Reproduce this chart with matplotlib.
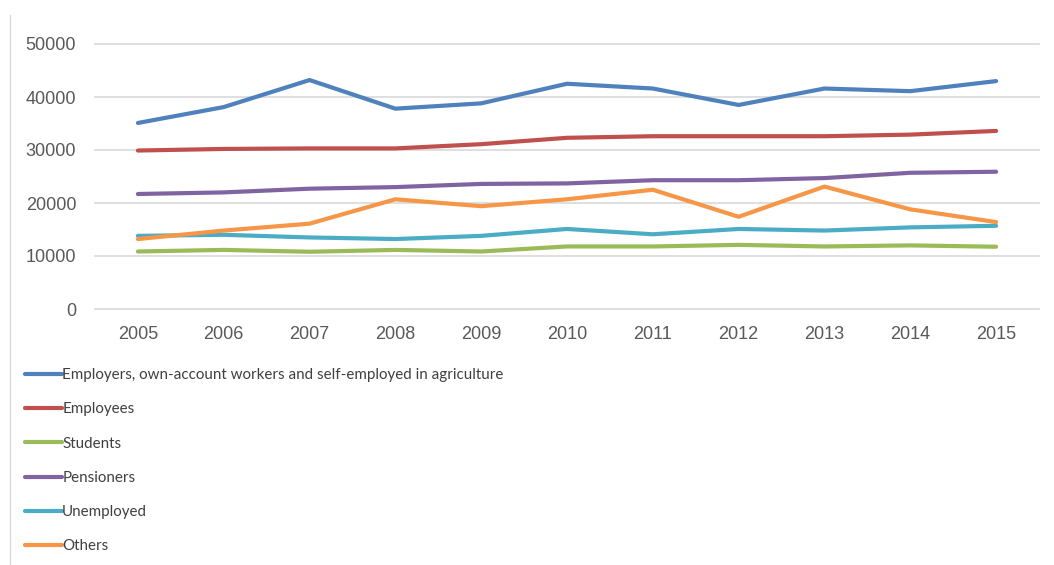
import matplotlib
matplotlib.use("Agg")
import matplotlib.pyplot as plt
from matplotlib.lines import Line2D

years = ["2005", "2006", "2007", "2008", "2009", "2010",
         "2011", "2012", "2013", "2014", "2015"]

employers = [35100, 38100, 43200, 37800, 38800, 42500, 41600, 38500, 41600, 41100, 43000]
employees = [29900, 30200, 30300, 30300, 31100, 32300, 32600, 32600, 32600, 32900, 33600]
students = [10850, 11150, 10800, 11150, 10850, 11800, 11800, 12100, 11800, 12000, 11750]
pensioners = [21700, 22000, 22700, 23000, 23600, 23700, 24300, 24300, 24700, 25700, 25900]
unemployed = [13800, 14000, 13500, 13200, 13800, 15100, 14100, 15100, 14800, 15400, 15700]
others = [13200, 14800, 16100, 20700, 19400, 20700, 22500, 17400, 23100, 18800, 16400]

labels = ["Employers, own-account workers and self-employed in agriculture",
          "Employees", "Students", "Pensioners", "Unemployed", "Others"]
colors = ["#4F81BD", "#C0504D", "#9BBB59", "#8064A2", "#4BACC6", "#F79646"]
series = [employers, employees, students, pensioners, unemployed, others]

fig = plt.figure(figsize=(10.54, 5.65), dpi=100)
ax = fig.add_axes([95 / 1054, 1 - 309 / 565, 944 / 1054, 265 / 565])

x = range(len(years))
for vals, lab, col in zip(series, labels, colors):
    ax.plot(x, vals, color=col, lw=3, label=lab, solid_capstyle="round")

ax.set_xlim(-0.5, len(years) - 0.5)
ax.set_ylim(0, 50000)
ax.set_yticks(range(0, 50001, 10000))
ax.set_xticks(list(x))
ax.set_xticklabels(years)
ax.grid(axis="y", color="#D9D9D9", lw=1.2)
for gl in ax.get_ygridlines():
    gl.set_clip_on(False)
ax.set_axisbelow(True)
for s in ax.spines.values():
    s.set_visible(False)
ax.tick_params(length=0, colors="#595959", labelsize=13)
ax.tick_params(axis="y", pad=13.5)
ax.tick_params(axis="x", pad=12)
for t in ax.get_xticklabels() + ax.get_yticklabels():
    t.set_fontfamily(["Liberation Sans", "DejaVu Sans"])

# chart area border on the left
fig.add_artist(Line2D([10 / 1054, 10 / 1054], [0, 1 - 15 / 565],
                      transform=fig.transFigure, color="#D9D9D9", lw=1))

handles, labs = ax.get_legend_handles_labels()
leg = fig.legend(handles, labs, loc="upper left",
                 bbox_to_anchor=(19 / 1054, 1 - 362 / 565),
                 frameon=False, handlelength=2.45, handletextpad=0.0,
                 labelspacing=1.34, borderaxespad=0,
                 prop={"family": ["Lato", "DejaVu Sans"], "size": 10.9})
for t in leg.get_texts():
    t.set_color("#404040")

fig.savefig("out.png", dpi=100)
